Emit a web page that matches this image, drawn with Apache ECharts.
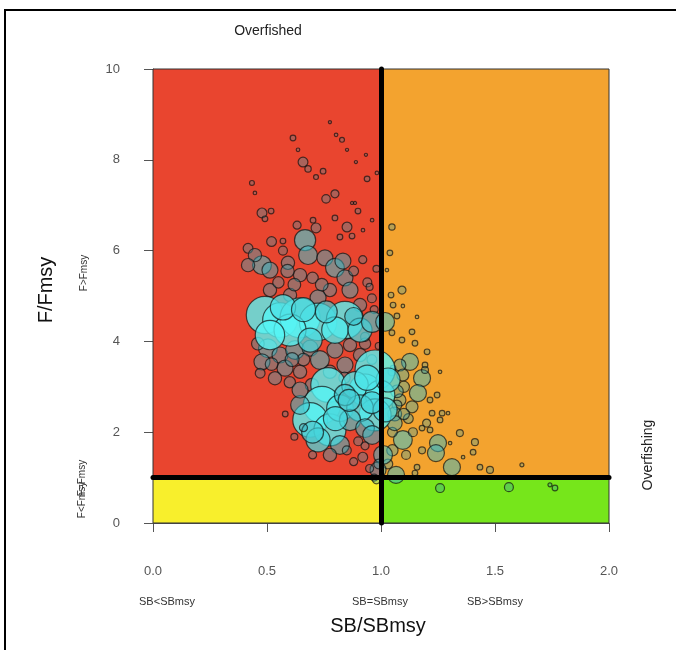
<!DOCTYPE html>
<html>
<head>
<meta charset="utf-8">
<script src="https://cdn.jsdelivr.net/npm/echarts@6/dist/echarts.min.js"></script>
<style>
  html, body { margin: 0; padding: 0; background: #ffffff; }
  #chart { width: 676px; height: 650px; }
</style>
</head>
<body>
<div id="chart"></div>
<script>
// Kobe plot: SB/SBmsy against F/Fmsy, bubble area scaled by catch weight.
// Each point: [SB/SBmsy, F/Fmsy, relative catch weight]

const xTicks = [0, 0.5, 1, 1.5, 2];
const yTicks = [0, 2, 4, 6, 8, 10];

const sparseHigh = [
  [0.614, 8.48, 2], [0.776, 8.83, 0.6], [0.803, 8.55, 0.8], [0.829, 8.44, 1.5],
  [0.851, 8.22, 0.6], [0.636, 8.22, 0.8], [0.658, 7.95, 6], [0.680, 7.80, 2.5],
  [0.746, 7.75, 2], [0.715, 7.62, 1.5], [0.890, 7.95, 0.6], [0.934, 8.11, 0.6],
  [0.939, 7.58, 2], [0.982, 7.71, 0.8], [0.434, 7.49, 1.5], [0.447, 7.27, 0.8],
  [0.759, 7.14, 4.5], [0.798, 7.25, 4], [0.873, 7.05, 0.6], [0.886, 7.05, 0.6],
  [0.478, 6.83, 6], [0.491, 6.70, 2], [0.518, 6.87, 2], [0.632, 6.56, 4],
  [0.702, 6.67, 2], [0.715, 6.50, 6], [0.798, 6.72, 2], [0.851, 6.52, 6],
  [0.820, 6.30, 2], [0.873, 6.32, 2], [0.921, 6.45, 0.8], [0.961, 6.67, 0.8],
  [0.899, 6.87, 2], [0.417, 6.05, 6], [0.570, 6.21, 2]
];

const sparseRight = [
  [1.048, 6.52, 2.5], [1.039, 5.95, 2], [1.026, 5.57, 0.8], [1.092, 5.13, 4],
  [1.044, 5.02, 2], [1.053, 4.80, 2], [1.096, 4.78, 0.8], [1.158, 4.54, 0.8],
  [1.070, 4.56, 2], [1.048, 4.19, 2], [1.136, 4.21, 2], [1.092, 4.03, 2],
  [1.149, 3.96, 2], [1.202, 3.77, 2], [1.259, 3.33, 0.8], [1.193, 3.48, 2],
  [1.053, 3.41, 2], [1.215, 2.71, 2], [1.246, 2.82, 2], [1.224, 2.42, 2],
  [1.268, 2.42, 2], [1.294, 2.42, 0.8], [1.259, 2.27, 2], [1.180, 2.09, 2],
  [1.215, 2.05, 2], [1.346, 1.98, 3], [1.303, 1.76, 0.8], [1.412, 1.78, 3],
  [1.404, 1.56, 2], [1.360, 1.45, 0.8], [1.158, 1.23, 2], [1.149, 1.10, 2],
  [1.434, 1.23, 2], [1.478, 1.17, 3], [1.618, 1.28, 1], [1.741, 0.84, 1],
  [1.763, 0.77, 2], [1.259, 0.77, 5], [1.561, 0.79, 5]
];

const midRight = [
  [1.127, 3.55, 18], [1.083, 3.48, 9], [1.180, 3.19, 18], [1.096, 3.26, 9],
  [1.048, 3.33, 4], [1.193, 3.37, 3], [1.083, 2.71, 9], [1.162, 2.86, 18],
  [1.136, 2.56, 9], [1.070, 2.60, 6], [1.096, 1.83, 22], [1.250, 1.76, 18],
  [1.241, 1.54, 18], [1.311, 1.23, 18], [1.066, 1.06, 18], [1.120, 2.30, 6],
  [1.140, 2.00, 5], [1.200, 2.20, 4], [1.110, 1.50, 5], [1.050, 2.00, 6],
  [1.050, 1.60, 8], [1.030, 1.30, 6], [1.180, 1.60, 3], [1.100, 3.00, 8],
  [1.070, 2.90, 10], [1.060, 2.40, 12], [1.060, 2.20, 14], [1.100, 2.40, 8]
];

const upperBand = [
  [0.478, 5.68, 22], [0.513, 5.57, 16], [0.592, 5.73, 11], [0.667, 6.23, 28],
  [0.680, 5.90, 22], [0.645, 5.46, 11], [0.754, 5.84, 16], [0.798, 5.62, 22],
  [0.842, 5.40, 16], [0.776, 5.13, 11], [0.601, 5.02, 11], [0.513, 5.13, 11],
  [0.833, 5.77, 16], [0.864, 5.13, 16], [0.724, 4.96, 16], [0.908, 4.80, 11],
  [0.447, 5.90, 11], [0.417, 5.68, 11], [0.550, 5.30, 8], [0.620, 5.25, 10],
  [0.700, 5.40, 8], [0.740, 5.25, 10], [0.880, 5.55, 6], [0.940, 5.30, 5],
  [0.920, 5.80, 4], [0.960, 4.95, 5], [0.980, 5.60, 3], [0.590, 5.55, 11],
  [0.570, 6.00, 5], [0.520, 6.20, 6], [0.950, 5.20, 3], [0.970, 4.70, 4]
];

const upperCore = [
  [0.491, 4.58, 87], [0.557, 4.47, 75], [0.645, 4.52, 100], [0.724, 4.43, 87],
  [0.601, 4.25, 64], [0.513, 4.14, 54], [0.842, 4.47, 87], [0.798, 4.25, 44],
  [0.689, 4.03, 36], [0.908, 4.25, 36], [0.961, 4.43, 28], [1.018, 4.43, 22],
  [0.570, 4.75, 40], [0.760, 4.65, 30], [0.660, 4.70, 36], [0.880, 4.55, 20]
];

const middleBand = [
  [0.504, 3.85, 22], [0.557, 3.70, 16], [0.623, 3.81, 22], [0.689, 3.85, 16],
  [0.478, 3.55, 16], [0.579, 3.41, 16], [0.645, 3.33, 11], [0.732, 3.59, 22],
  [0.798, 3.81, 16], [0.864, 3.92, 11], [0.776, 3.33, 11], [0.842, 3.48, 16],
  [0.908, 3.70, 11], [0.535, 3.19, 11], [0.697, 3.04, 11], [0.460, 3.95, 10],
  [0.470, 3.30, 6], [0.600, 3.10, 8], [0.660, 3.60, 10], [0.930, 3.95, 8],
  [0.960, 3.60, 6], [0.520, 3.50, 10], [0.610, 3.60, 12], [0.840, 3.20, 8],
  [0.930, 4.10, 5], [0.990, 3.90, 3], [0.960, 3.10, 4]
];

const lowerCore = [
  [0.768, 3.04, 75], [0.741, 2.60, 87], [0.689, 2.27, 75], [0.776, 2.05, 64],
  [0.724, 1.83, 36], [0.820, 2.53, 44], [0.974, 3.37, 100], [0.930, 2.93, 64],
  [0.886, 3.04, 44], [0.996, 2.82, 54], [0.974, 2.38, 64], [0.908, 2.53, 44],
  [1.031, 3.15, 36], [0.842, 2.82, 28], [0.864, 2.27, 28], [1.018, 2.49, 36],
  [0.930, 2.09, 22], [0.645, 2.60, 22], [0.645, 2.93, 16], [0.820, 1.72, 22],
  [0.776, 1.50, 11], [0.961, 1.94, 22], [1.009, 1.50, 22], [0.987, 1.17, 16],
  [0.700, 2.00, 30], [0.860, 2.70, 30], [0.940, 3.20, 40], [0.800, 2.30, 36],
  [0.960, 2.65, 30]
];

const lowerSmall = [
  [0.700, 1.50, 4], [0.850, 1.60, 5], [0.880, 1.35, 4], [0.920, 1.45, 6],
  [0.950, 1.20, 4], [0.970, 1.00, 3], [0.900, 1.80, 5], [0.620, 1.90, 3],
  [0.660, 2.10, 4], [0.580, 2.40, 2], [0.930, 1.70, 4], [0.990, 1.30, 6],
  [0.980, 0.95, 4]
];

const points = [].concat(sparseHigh, sparseRight, midRight, upperBand,
  middleBand, upperCore, lowerCore, lowerSmall);

const zoneColors = { red: '#E9452F', orange: '#F3A32F', yellow: '#F8EF2C', green: '#76E61B' };
const fontFamily = '"Liberation Sans", Arial, Helvetica, sans-serif';

const chart = echarts.init(document.getElementById('chart'), null, { renderer: 'canvas' });

// Heavier catches are drawn brighter and more opaque; light ones fade into the zone colour.
function bubbleFill(w) {
  const t = Math.min(1, w / 50);
  const r = Math.round(40 + 45 * t);
  const g = Math.round(150 + 95 * t);
  const b = Math.round(170 + 75 * t);
  const a = 0.32 + 0.66 * Math.min(1, w / 40);
  return 'rgba(' + r + ',' + g + ',' + b + ',' + a.toFixed(3) + ')';
}

const zoneBorder = { borderColor: '#333', borderWidth: 1 };

chart.setOption({
  backgroundColor: '#ffffff',
  animation: false,
  grid: { left: 153, right: 67, top: 69, bottom: 127 },
  xAxis: {
    type: 'value', min: 0, max: 2, interval: 0.5, offset: 20,
    splitLine: { show: false },
    axisLine: { show: true, lineStyle: { color: '#555', width: 1 } },
    axisTick: { show: true, length: 9, lineStyle: { color: '#555' } },
    axisLabel: {
      color: '#555', fontSize: 13, fontFamily: fontFamily, margin: 22,
      formatter: v => v.toFixed(1)
    }
  },
  yAxis: {
    type: 'value', min: 0, max: 10, interval: 2, offset: 17,
    splitLine: { show: false },
    axisLine: { show: true, lineStyle: { color: '#555', width: 1 } },
    axisTick: { show: true, length: 9, lineStyle: { color: '#555' } },
    axisLabel: { color: '#555', fontSize: 13, fontFamily: fontFamily, margin: 16 }
  },
  series: [
    {
      name: 'zones', type: 'scatter', data: [], z: 1, silent: true,
      markArea: {
        silent: true,
        data: [
          [{ xAxis: 0, yAxis: 1, itemStyle: Object.assign({ color: zoneColors.red }, zoneBorder) }, { xAxis: 1, yAxis: 10 }],
          [{ xAxis: 1, yAxis: 1, itemStyle: Object.assign({ color: zoneColors.orange }, zoneBorder) }, { xAxis: 2, yAxis: 10 }],
          [{ xAxis: 0, yAxis: 0, itemStyle: Object.assign({ color: zoneColors.yellow }, zoneBorder) }, { xAxis: 1, yAxis: 1 }],
          [{ xAxis: 1, yAxis: 0, itemStyle: Object.assign({ color: zoneColors.green }, zoneBorder) }, { xAxis: 2, yAxis: 1 }]
        ]
      }
    },
    {
      name: 'stock', type: 'scatter', z: 2, silent: true,
      data: points,
      symbolSize: d => 4.0 * Math.sqrt(d[2]),
      itemStyle: {
        color: p => bubbleFill(p.data[2]),
        borderColor: 'rgba(15,15,15,0.85)',
        borderWidth: 1.2
      }
    },
    {
      name: 'reference', type: 'scatter', data: [], z: 3, silent: true,
      markLine: {
        silent: true, symbol: 'none',
        label: { show: false },
        lineStyle: { color: '#000', width: 5, type: 'solid', cap: 'round' },
        data: [{ xAxis: 1 }, { yAxis: 1 }]
      }
    }
  ],
  graphic: [
    { type: 'rect', shape: { x: 5, y: 10, width: 720, height: 720 },
      style: { fill: 'none', stroke: '#000', lineWidth: 2 }, z: 10 },
    { type: 'text', x: 268, y: 31, style: { text: 'Overfished', fontSize: 14, fontFamily: fontFamily, fill: '#222', textAlign: 'center', textVerticalAlign: 'middle' } },
    { type: 'text', x: 648, y: 455, rotation: Math.PI / 2, style: { text: 'Overfishing', fontSize: 14, fontFamily: fontFamily, fill: '#222', textAlign: 'center', textVerticalAlign: 'middle' } },
    { type: 'text', x: 46, y: 290, rotation: Math.PI / 2, style: { text: 'F/Fmsy', fontSize: 20, fontFamily: fontFamily, fill: '#111', textAlign: 'center', textVerticalAlign: 'middle' } },
    { type: 'text', x: 378, y: 626, style: { text: 'SB/SBmsy', fontSize: 20, fontFamily: fontFamily, fill: '#111', textAlign: 'center', textVerticalAlign: 'middle' } },
    { type: 'text', x: 84, y: 273, rotation: Math.PI / 2, style: { text: 'F>Fmsy', fontSize: 10, fontFamily: fontFamily, fill: '#333', textAlign: 'center', textVerticalAlign: 'middle' } },
    { type: 'text', x: 82, y: 478, rotation: Math.PI / 2, style: { text: 'F=Fmsy', fontSize: 10, fontFamily: fontFamily, fill: '#333', textAlign: 'center', textVerticalAlign: 'middle' } },
    { type: 'text', x: 82, y: 500, rotation: Math.PI / 2, style: { text: 'F<Fmsy', fontSize: 10, fontFamily: fontFamily, fill: '#333', textAlign: 'center', textVerticalAlign: 'middle' } },
    { type: 'text', x: 167, y: 602, style: { text: 'SB<SBmsy', fontSize: 11, fontFamily: fontFamily, fill: '#333', textAlign: 'center', textVerticalAlign: 'middle' } },
    { type: 'text', x: 380, y: 602, style: { text: 'SB=SBmsy', fontSize: 11, fontFamily: fontFamily, fill: '#333', textAlign: 'center', textVerticalAlign: 'middle' } },
    { type: 'text', x: 495, y: 602, style: { text: 'SB>SBmsy', fontSize: 11, fontFamily: fontFamily, fill: '#333', textAlign: 'center', textVerticalAlign: 'middle' } }
  ]
});
</script>
</body>
</html>
